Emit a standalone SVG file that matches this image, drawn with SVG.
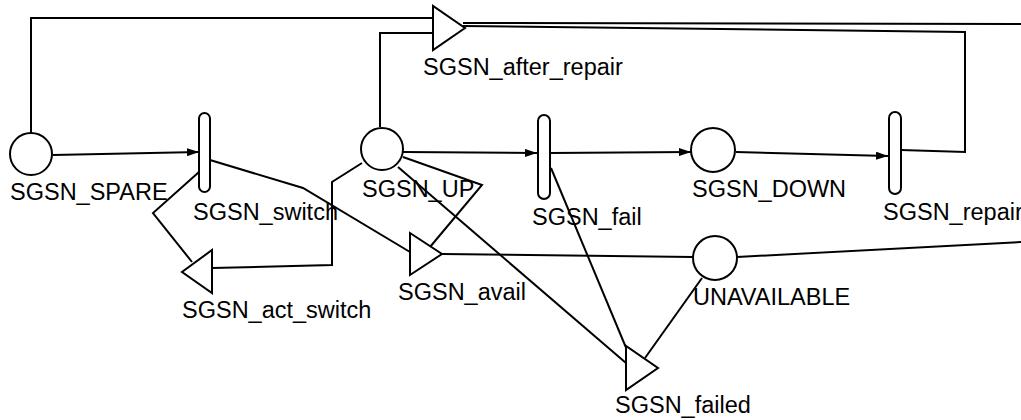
<svg xmlns="http://www.w3.org/2000/svg" width="1021" height="420" viewBox="0 0 1021 420">
  <style>
    .place { fill: #fff; stroke: #000; stroke-width: 2; }
    .trans { fill: #fff; stroke: #000; stroke-width: 2; }
    .imm { fill: #fff; stroke: #000; stroke-width: 2; stroke-linejoin: miter; }
    .arc { fill: none; stroke: #000; stroke-width: 2; }
    .lbl { font-family: "Liberation Sans", Arial, sans-serif; font-size: 23.5px; fill: #000; }
  </style>
  <defs>
    <marker id="arrow" viewBox="0 0 12 8" refX="12" refY="4" markerWidth="12" markerHeight="8" markerUnits="userSpaceOnUse" orient="auto">
      <path d="M0,0 L12,4 L0,8 Z" fill="#000"/>
    </marker>
  </defs>
  <rect width="1021" height="420" fill="#fff"/>

  <!-- arcs -->
  <g id="connectors">
    <polyline class="arc" points="31,133 31,18 433,18"/>
    <polyline class="arc" points="380,127 380,33 433,33"/>
    <line class="arc" x1="463" y1="23" x2="1021" y2="24"/>
    <polyline class="arc" points="901,150 965,152 965,32 463,26"/>
    <line class="arc" x1="53" y1="155" x2="199" y2="152" marker-end="url(#arrow)"/>
    <polyline class="arc" points="362,163 332,182 332,265 212,268"/>
    <polyline class="arc" points="192,262 153,213 199,172"/>
    <polyline class="arc" points="210,160 303,188 410,252"/>
    <polyline class="arc" points="430,247 482,185 403,157"/>
    <line class="arc" x1="398" y1="167" x2="626" y2="363"/>
    <line class="arc" x1="442" y1="254" x2="693" y2="257"/>
    <line class="arc" x1="737" y1="257" x2="1021" y2="242"/>
    <line class="arc" x1="702" y1="278" x2="645" y2="358"/>
    <line class="arc" x1="551" y1="168" x2="627" y2="350"/>
    <line class="arc" x1="403" y1="152" x2="537" y2="153" marker-end="url(#arrow)"/>
    <line class="arc" x1="550" y1="153" x2="691" y2="152" marker-end="url(#arrow)"/>
    <line class="arc" x1="736" y1="152" x2="888" y2="156" marker-end="url(#arrow)"/>
  </g>

  <!-- places -->
  <g id="SGSN_SPARE">
    <circle class="place" cx="31" cy="154" r="21"/>
    <text class="lbl" x="10" y="200">SGSN_SPARE</text>
  </g>
  <g id="SGSN_UP">
    <circle class="place" cx="382" cy="149" r="21"/>
    <text class="lbl" x="362" y="197">SGSN_UP</text>
  </g>
  <g id="SGSN_DOWN">
    <circle class="place" cx="713" cy="150" r="22"/>
    <text class="lbl" x="692" y="197">SGSN_DOWN</text>
  </g>
  <g id="UNAVAILABLE">
    <circle class="place" cx="715" cy="258" r="22"/>
    <text class="lbl" x="693" y="305">UNAVAILABLE</text>
  </g>

  <!-- timed transitions -->
  <g id="SGSN_switch">
    <rect class="trans" x="199" y="113" width="11" height="79" rx="5.5"/>
    <text class="lbl" x="193" y="220">SGSN_switch</text>
  </g>
  <g id="SGSN_fail">
    <rect class="trans" x="538" y="115" width="12" height="84" rx="6"/>
    <text class="lbl" x="532" y="225">SGSN_fail</text>
  </g>
  <g id="SGSN_repair">
    <rect class="trans" x="889" y="112" width="12" height="82" rx="6"/>
    <text class="lbl" x="883" y="220">SGSN_repair</text>
  </g>

  <!-- immediate transitions -->
  <g id="SGSN_after_repair">
    <polygon class="imm" points="433,6 433,50 465,28"/>
    <text class="lbl" x="423" y="75">SGSN_after_repair</text>
  </g>
  <g id="SGSN_act_switch">
    <polygon class="imm" points="212,250 212,293 182,272"/>
    <text class="lbl" x="182" y="318">SGSN_act_switch</text>
  </g>
  <g id="SGSN_avail">
    <polygon class="imm" points="410,233 410,275 442,254"/>
    <text class="lbl" x="398" y="300">SGSN_avail</text>
  </g>
  <g id="SGSN_failed">
    <polygon class="imm" points="626,346 626,390 658,368"/>
    <text class="lbl" x="615" y="413">SGSN_failed</text>
  </g>
</svg>
